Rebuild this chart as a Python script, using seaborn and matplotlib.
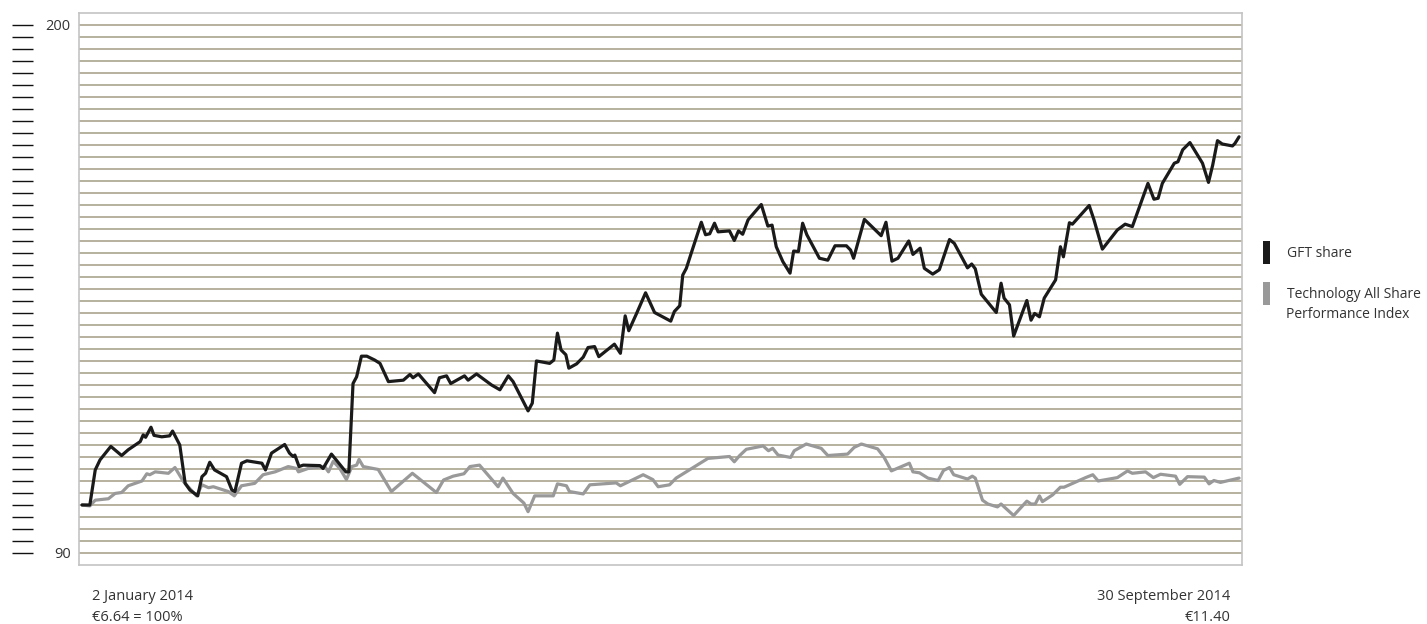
import numpy as np
import pandas as pd
import seaborn as sns
import matplotlib.pyplot as plt
from matplotlib.patches import Patch

# trading-day position (0 = 2 Jan 2014, 193 = 30 Sep 2014) and indexed value (%)
gft_day = [0.0, 1.3, 2.2, 3.0, 4.8, 6.6, 7.7, 9.7, 10.2, 10.6, 11.5, 12.0, 13.3, 14.6, 15.1,
           16.3, 17.2, 18.0, 19.3, 20.0, 20.6, 21.3, 22.1, 24.1, 25.0, 25.5, 26.6, 27.5, 30.0,
           30.6, 31.6, 33.8, 34.6, 35.2, 35.5, 36.2, 36.9, 39.7, 40.2, 41.6, 44.0, 44.5, 45.2,
           45.8, 46.6, 47.5, 48.8, 49.7, 51.1, 53.6, 54.7, 55.2, 56.1, 58.8, 59.6, 60.8, 61.5,
           63.8, 64.4, 65.8, 68.3, 69.7, 71.1, 71.9, 74.4, 75.1, 75.8, 78.0, 78.7, 79.3, 79.9,
           80.7, 81.2, 82.5, 83.6, 84.4, 85.5, 86.2, 88.8, 89.8, 90.6, 91.2, 92.5, 94.0, 95.5,
           98.2, 98.8, 99.7, 100.2, 100.8, 101.6, 103.3, 104.0, 104.7, 105.5, 106.1, 108.0,
           108.8, 109.5, 110.2, 111.1, 113.3, 114.4, 115.1, 115.8, 116.9, 118.1, 118.7, 119.5,
           120.2, 120.9, 123.0, 124.4, 125.6, 127.5, 128.2, 128.7, 130.5, 133.3, 134.1, 135.1,
           136.1, 137.9, 138.6, 139.8, 140.5, 141.9, 143.0, 144.7, 145.5, 147.7, 148.4, 149.0,
           150.0, 152.5, 153.3, 153.8, 154.7, 155.4, 157.6, 158.3, 158.9, 159.7, 160.5, 162.4,
           163.2, 163.7, 164.7, 165.2, 168.0, 168.8, 170.2, 172.7, 174.0, 175.2, 177.8, 178.8,
           179.5, 180.2, 182.2, 182.8, 183.6, 184.8, 186.9, 187.9, 188.6, 189.4, 190.2, 191.9,
           192.3, 193.0]
gft_val = [100.0, 100.0, 107.3, 109.4, 112.2, 110.3, 111.5, 113.2, 114.6, 114.1, 116.2, 114.5,
           114.2, 114.4, 115.4, 112.5, 104.5, 103.1, 101.9, 105.9, 106.6, 108.9, 107.3, 105.9,
           103.1, 102.8, 108.7, 109.2, 108.7, 107.3, 110.8, 112.6, 110.8, 110.1, 110.4, 108.0,
           108.3, 108.2, 107.6, 110.6, 106.9, 106.9, 125.3, 126.7, 131.0, 131.0, 130.2, 129.5,
           125.7, 126.0, 127.2, 126.5, 127.3, 123.4, 126.5, 126.9, 125.3, 126.9, 126.0, 127.3,
           125.0, 124.0, 126.9, 125.7, 119.6, 121.2, 130.0, 129.5, 130.2, 135.8, 132.3, 131.3,
           128.5, 129.4, 130.8, 132.8, 133.0, 130.9, 133.5, 131.6, 139.4, 136.3, 139.9, 144.2,
           140.1, 138.3, 140.3, 141.5, 147.9, 149.3, 152.4, 158.9, 156.3, 156.5, 158.7, 156.9,
           157.1, 155.1, 157.1, 156.4, 159.4, 162.6, 158.1, 158.3, 153.8, 150.7, 148.3, 152.9,
           152.8, 158.7, 156.3, 151.4, 151.0, 154.0, 154.0, 153.1, 151.4, 159.5, 156.1, 158.9,
           150.8, 151.4, 155.0, 152.2, 153.5, 149.3, 148.1, 149.0, 155.3, 154.5, 149.4, 150.2,
           149.2, 143.9, 140.1, 146.2, 143.1, 141.7, 135.2, 142.6, 138.5, 139.9, 139.2, 143.1,
           146.9, 153.8, 151.7, 158.8, 158.5, 162.4, 159.4, 153.3, 157.3, 158.5, 158.0, 167.0,
           163.7, 163.9, 167.0, 171.2, 171.5, 174.0, 175.5, 171.2, 167.2, 170.8, 175.9, 175.2,
           174.8, 175.3, 176.7]

tech_day = [0.0, 1.3, 2.2, 4.4, 5.5, 6.6, 7.7, 10.0, 10.8, 11.3, 12.2, 14.4, 15.5, 16.9, 19.1,
            20.0, 21.1, 21.9, 24.4, 25.4, 26.6, 28.8, 30.2, 32.2, 34.4, 35.8, 36.1, 37.7, 40.5,
            41.1, 41.9, 43.0, 44.1, 45.0, 45.8, 46.2, 46.9, 49.4, 51.6, 55.1, 59.1, 60.3, 61.9,
            63.7, 64.7, 66.3, 69.4, 70.2, 71.9, 73.7, 74.4, 75.5, 78.6, 79.3, 80.8, 81.3, 83.6,
            84.7, 89.1, 89.8, 93.6, 95.2, 96.1, 98.0, 99.1, 104.4, 108.0, 108.8, 109.7, 110.8,
            113.6, 114.5, 115.2, 116.1, 118.2, 118.8, 120.8, 123.3, 124.4, 127.7, 128.8, 130.0,
            132.7, 133.8, 135.0, 138.0, 138.6, 139.7, 141.1, 142.8, 143.7, 144.7, 145.4, 147.7,
            148.5, 149.0, 150.2, 151.1, 152.7, 153.3, 155.4, 157.6, 158.3, 159.0, 159.7, 160.2,
            161.9, 163.2, 163.8, 164.7, 167.4, 168.6, 169.5, 172.7, 174.4, 175.2, 177.4, 178.7,
            179.9, 182.4, 183.1, 184.4, 187.2, 188.0, 188.8, 189.9, 193.0]
tech_val = [100.0, 99.8, 101.0, 101.3, 102.4, 102.6, 104.0, 105.0, 106.5, 106.3, 106.9, 106.6,
            107.8, 104.9, 101.9, 104.2, 103.6, 103.8, 102.8, 101.9, 104.0, 104.5, 106.3, 106.9,
            108.0, 107.6, 106.9, 107.6, 108.0, 106.9, 109.1, 107.6, 105.3, 108.0, 108.3, 109.5,
            108.0, 107.4, 102.8, 106.6, 102.6, 105.2, 106.0, 106.5, 108.0, 108.3, 103.8, 105.6,
            102.4, 100.4, 98.6, 101.9, 101.9, 104.4, 104.0, 102.8, 102.3, 104.2, 104.6, 104.0,
            106.3, 105.3, 103.8, 104.2, 105.6, 109.7, 110.1, 109.0, 110.3, 111.6, 112.3, 111.3,
            111.8, 110.4, 109.9, 111.3, 112.7, 111.8, 110.3, 110.6, 112.0, 112.7, 111.7, 109.9,
            107.1, 108.7, 106.9, 106.7, 105.6, 105.1, 107.2, 107.8, 106.3, 105.4, 106.0, 105.6,
            101.0, 100.2, 99.6, 100.2, 97.8, 100.8, 100.2, 100.2, 101.9, 100.7, 102.1, 103.7,
            103.7, 104.2, 105.7, 106.3, 105.0, 105.7, 107.1, 106.6, 106.9, 105.7, 106.4, 106.0,
            104.3, 105.9, 105.8, 104.4, 105.1, 104.7, 105.6]

series_names = ["GFT share", "Technology All Share Performance Index"]
legend_lines = [["GFT share"], ["Technology All Share", "Performance Index"]]
series_colors = ["#1a1a1a", "#999999"]
grid_levels = np.arange(90, 200.1, 2.5)
ytick_values = [90, 200]

df = pd.concat([
    pd.DataFrame({"day": gft_day, "value": gft_val, "series": series_names[0]}),
    pd.DataFrame({"day": tech_day, "value": tech_val, "series": series_names[1]}),
])

sns.set_style("white")
plt.rcParams["font.family"] = ["Open Sans", "DejaVu Sans"]
FS = 10.5
TXT = "#333333"

fig = plt.figure(figsize=(14.27, 6.24), dpi=100)
ax = fig.add_axes([0.0554, 0.0946, 0.8150, 0.8846])

# horizontal rules every 2.5 points
ax.hlines(grid_levels, 0, 1, transform=ax.get_yaxis_transform(),
          color="#a39d84", linewidth=1.1, zorder=1)
# the detached dashes on the far left
ax.hlines(grid_levels, -0.0576, -0.0396, transform=ax.get_yaxis_transform(),
          color="#111111", linewidth=1.0, clip_on=False)

sns.lineplot(data=df, x="day", y="value", hue="series", hue_order=series_names[::-1],
             palette=series_colors[::-1], linewidth=2.3, legend=False, sort=False,
             estimator=None, ax=ax, zorder=3)

ax.set_xlim(-0.5, 193.5)
ax.set_ylim(87.5, 202.5)
ax.set_xticks([])
ax.set_yticks(ytick_values)
ax.tick_params(axis="y", length=0, pad=6, labelsize=FS, labelcolor=TXT)
ax.set_xlabel("")
ax.set_ylabel("")
for s in ax.spines.values():
    s.set_color("#c4c4c4")
    s.set_linewidth(1.2)

# legend: first line of each label beside the swatch, continuation line below it
handles = [Patch(facecolor=c, edgecolor="none") for c in series_colors]
leg = fig.legend(handles, [ln[0] for ln in legend_lines], loc="upper left",
                 bbox_to_anchor=(0.8765, 0.634), frameon=False, fontsize=10,
                 handlelength=0.5, handleheight=2.15, handletextpad=1.2,
                 labelspacing=1.3, labelcolor=TXT)
fig.text(0.9015, 1 - 314 / 624, legend_lines[1][1], fontsize=10, color=TXT, va="center")

fig.text(0.0645, 0.0433, "2 January 2014", fontsize=FS, color=TXT, va="center")
fig.text(0.0645, 0.0112, "€6.64 = 100%", fontsize=FS, color=TXT, va="center")
fig.text(0.862, 0.0433, "30 September 2014", fontsize=FS, color=TXT, va="center", ha="right")
fig.text(0.862, 0.0112, "€11.40", fontsize=FS, color=TXT, va="center", ha="right")

fig.savefig("out.png", dpi=100)
